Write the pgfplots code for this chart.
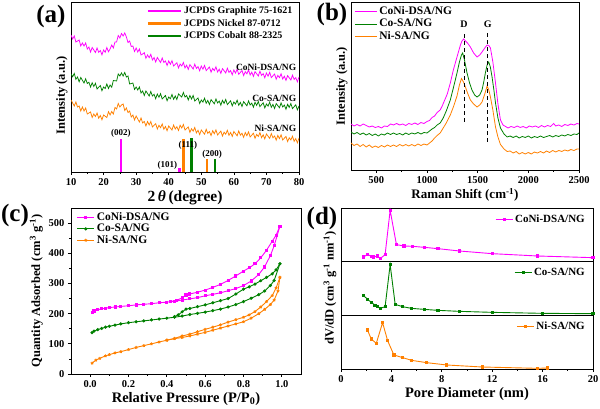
\documentclass[border=0pt]{standalone}
\usepackage{fontspec}
\setmainfont{Liberation Serif}
\usepackage{pgfplots}
\pgfplotsset{compat=1.18}
\definecolor{mag}{RGB}{255,0,255}
\definecolor{grn}{RGB}{0,128,0}
\definecolor{org}{RGB}{255,128,0}
\pgfplotsset{
  every axis/.append style={
    scale only axis,
    axis line style={line width=0.8pt},
    every tick/.style={black, line width=0.7pt},
    major tick length=3pt, minor tick length=1.8pt,
    tick align=outside, xtick pos=bottom, ytick pos=left,
    ticklabel style={font=\bfseries\fontsize{10.5}{11}\selectfont},
    label style={font=\bfseries\fontsize{12.5}{13}\selectfont},
    /pgf/number format/assume math mode=true,
    /pgf/number format/set thousands separator={},
    legend cell align=left,
  },
}
\begin{document}
\begin{tikzpicture}
\useasboundingbox (0pt,0pt) rectangle (600pt,409pt);
% ---------------- (a) ----------------
\begin{axis}[at={(71pt,237pt)}, anchor=south west, width=228pt, height=170pt,
  xmin=10, xmax=80, ymin=0, ymax=170,
  xtick={10,20,...,80}, minor x tick num=1, ytick=\empty,
  xlabel={2\,\textit{θ}\,(degree)}, ylabel={Intensity (a.u.)},
  xlabel style={yshift=2pt, font=\bfseries\fontsize{15.5}{16}\selectfont},
  ylabel style={at={(ticklabel cs:0.45)}, yshift=-3pt},
  legend image code/.code={\draw[#1] (0pt,0pt) -- (33pt,0pt);},
  legend style={at={(rel axis cs:0.985,0.99)}, anchor=north east, draw=none, fill=none,
    font=\bfseries\fontsize{10}{10.5}\selectfont, row sep=0pt, inner sep=1pt},
]
\addplot[mag, line width=0.75pt, forget plot] coordinates {
(10,137)(10.5,133)(11,136)(11.5,130)(12,131)(12.5,132)(13,126)(13.5,129)(14,126)(14.5,129)
(15,123)(15.5,125)(16,120)(16.5,124.5)(17,122)(17.5,119.5)(18,124)(18.5,119.7)(19,121.5)(19.5,117.2)
(20,122)(20.5,119.7)(21,124.5)(21.5,120.2)(22,123)(22.5,127)(23,124)(23.5,130)(24,130)(24.5,136.5)
(25,134)(25.5,138.5)(26,136)(26.5,139)(27,135)(27.5,129.5)(28,131)(28.5,125.5)(29,126)(29.5,120.5)
(30,124)(30.5,120)(31,123)(31.5,117)(32,118)(32.5,119.3)(33,113.7)(33.5,117)(34,114.3)(34.5,117.7)
(35,112)(35.5,114.5)(36,110)(36.5,114.5)(37,112)(37.5,109.5)(38,114)(38.5,109.5)(39,111)(39.5,106.5)
(40,111)(40.5,107.7)(41,111.3)(41.5,106)(42,107.7)(42.5,109.3)(43,104)(43.5,108)(44,106)(44.5,109.5)
(45,104)(45.5,106.8)(46,102.6)(46.5,107.4)(47,105.2)(47.5,103)(48,107.8)(48.5,103.6)(49,105.4)(49.5,101.2)
(50,106)(50.5,102.8)(51,106.6)(51.5,101.4)(52,103.2)(52.5,105)(53,99.8)(53.5,103.6)(54,101.4)(54.5,105.2)
(55,100)(55.5,102.8)(56,98.6)(56.5,103.4)(57,101.2)(57.5,99)(58,103.8)(58.5,99.6)(59,101.4)(59.5,97.2)
(60,102)(60.5,98.9)(61,102.8)(61.5,97.7)(62,99.6)(62.5,101.5)(63,96.4)(63.5,100.3)(64,98.2)(64.5,102.1)
(65,97)(65.5,99.8)(66,95.6)(66.5,100.4)(67,98.2)(67.5,96)(68,100.8)(68.5,96.6)(69,98.4)(69.5,94.2)
(70,99)(70.5,95.8)(71,99.6)(71.5,94.4)(72,96.2)(72.5,98)(73,92.8)(73.5,96.6)(74,94.4)(74.5,98.2)
(75,93)(75.5,95.8)(76,91.6)(76.5,96.4)(77,94.2)(77.5,92)(78,96.8)(78.5,92.6)(79,94.4)(79.5,90.2)(80,95)};
\addplot[grn, line width=0.75pt, forget plot] coordinates {
(10,98)(10.5,95.25)(11,98.5)(11.5,92.75)(12,95)(12.5,90.25)(13,94.5)(13.5,91.75)(14,89)(14.5,93.25)
(15,88.5)(15.5,89.75)(16,85)(16.5,89.25)(17,85.5)(17.5,88.75)(18,83)(18.5,84.75)(19,86.5)(19.5,81.25)
(20,85)(20.5,83.5)(21,88)(21.5,83.5)(22,87)(22.5,84.75)(23,91.5)(23.5,91.25)(24,91)(24.5,98)
(25,96)(25.5,99)(26,96)(26.5,99.5)(27,95)(27.5,96)(28,88)(28.5,88.5)(29,89)(29.5,82.5)
(30,85)(30.5,82)(31,85)(31.5,79)(32,81)(32.5,76.5)(33,81)(33.5,78.5)(34,76)(34.5,80.5)
(35,76)(35.5,77.7)(36,73.3)(36.5,78)(37,74.7)(37.5,78.3)(38,73)(38.5,74.75)(39,76.5)(39.5,71.25)
(40,75)(40.5,73.25)(41,77.5)(41.5,72.75)(42,76)(42.5,72.5)(43,78)(43.5,76.5)(44,75)(44.5,79.5)
(45,75)(45.5,76.5)(46,72)(46.5,76.5)(47,73)(47.5,76.5)(48,71)(48.5,72.5)(49,74)(49.5,68.5)
(50,72)(50.5,69.9)(51,73.8)(51.5,68.7)(52,71.6)(52.5,67.5)(53,72.4)(53.5,70.3)(54,68.2)(54.5,73.1)
(55,69)(55.5,70.9)(56,66.8)(56.5,71.7)(57,68.6)(57.5,72.5)(58,67.4)(58.5,69.3)(59,71.2)(59.5,66.1)
(60,70)(60.5,67.9)(61,71.8)(61.5,66.7)(62,69.6)(62.5,65.5)(63,70.4)(63.5,68.3)(64,66.2)(64.5,71.1)
(65,67)(65.5,68.9)(66,64.8)(66.5,69.7)(67,66.6)(67.5,70.5)(68,65.4)(68.5,67.3)(69,69.2)(69.5,64.1)
(70,68)(70.5,65.9)(71,69.8)(71.5,64.7)(72,67.6)(72.5,63.5)(73,68.4)(73.5,66.3)(74,64.2)(74.5,69.1)
(75,65)(75.5,66.9)(76,62.8)(76.5,67.7)(77,64.6)(77.5,68.5)(78,63.4)(78.5,65.3)(79,67.2)(79.5,62.1)(80,66)};
\addplot[org, line width=0.75pt, forget plot] coordinates {
(10,72)(10.5,69)(11,66)(11.5,70)(12,65)(12.5,66)(13,61)(13.5,65)(14,61)(14.5,64)
(15,58)(15.5,59)(16,60)(16.5,54.5)(17,58)(17.5,55.5)(18,59)(18.5,53.75)(19,56.5)(19.5,52.25)
(20,57)(20.5,55.75)(21,54.5)(21.5,60.25)(22,57)(22.5,60.5)(23,58)(23.5,64.5)(24,63)(24.5,68.5)
(25,65)(25.5,67)(26,68)(26.5,61.5)(27,64)(27.5,59.5)(28,61)(28.5,55)(29,57)(29.5,52)
(30,56)(30.5,53)(31,50)(31.5,54)(32,49)(32.5,50.5)(33,46)(33.5,50.5)(34,47)(34.5,50.5)
(35,45)(35.5,46.7)(36,48.3)(36.5,43)(37,46.7)(37.5,44.3)(38,48)(38.5,42.75)(39,45.5)(39.5,41.25)
(40,46)(40.5,44)(41,42)(41.5,47)(42,43)(42.5,45.25)(43,41.5)(43.5,46.75)(44,44)(44.5,47.5)
(45,42)(45.5,43.5)(46,45)(46.5,39.6)(47,43.25)(47.5,40.9)(48,44.5)(48.5,39.1)(49,41.75)(49.5,37.4)
(50,42)(50.5,39.9)(51,37.8)(51.5,42.7)(52,38.6)(52.5,40.5)(53,36.4)(53.5,41.3)(54,38.2)(54.5,42.1)
(55,37)(55.5,39)(56,40.9)(56.5,35.9)(57,39.8)(57.5,37.8)(58,41.7)(58.5,36.7)(59,39.6)(59.5,35.6)
(60,40.5)(60.5,38.35)(61,36.2)(61.5,41.05)(62,36.9)(62.5,38.75)(63,34.6)(63.5,39.45)(64,36.3)(64.5,40.15)
(65,35)(65.5,36.9)(66,38.8)(66.5,33.7)(67,37.6)(67.5,35.5)(68,39.4)(68.5,34.3)(69,37.2)(69.5,33.1)
(70,38)(70.5,35.8)(71,33.6)(71.5,38.4)(72,34.2)(72.5,36)(73,31.8)(73.5,36.6)(74,33.4)(74.5,37.2)
(75,32)(75.5,33.8)(76,35.6)(76.5,30.4)(77,34.2)(77.5,32)(78,35.8)(78.5,30.6)(79,33.4)(79.5,29.2)(80,34)};
\addplot[ycomb, mag, line width=2.3pt, forget plot] coordinates {(25.3,33)(43.3,4)};
\addplot[ycomb, org, line width=2.3pt, forget plot] coordinates {(44.5,33)(51.8,13)};
\addplot[ycomb, grn, line width=2.3pt, forget plot] coordinates {(47,34)(54.3,13)};
\addlegendimage{mag, line width=2.3pt}\addlegendentry{JCPDS Graphite 75-1621}
\addlegendimage{org, line width=2.3pt}\addlegendentry{JCPDS Nickel 87-0712}
\addlegendimage{grn, line width=2.3pt}\addlegendentry{JCPDS Cobalt 88-2325}
\begin{scope}[every node/.style={font=\bfseries\fontsize{9}{10}\selectfont, inner sep=0pt}]
\node at (axis cs:25.3,39) {(002)};
\node at (axis cs:39.6,6.5) {(101)};
\node at (axis cs:45.9,27) {(111)};
\node at (axis cs:53.3,17.5) {(200)};
\end{scope}
\begin{scope}[every node/.style={font=\bfseries\fontsize{9.5}{10}\selectfont, inner sep=0pt, anchor=east}]
\node at (axis cs:79.2,105) {CoNi-DSA/NG};
\node at (axis cs:79.2,74) {Co-SA/NG};
\node at (axis cs:79.2,44) {Ni-SA/NG};
\end{scope}
\end{axis}
% ---------------- (b) ----------------
\begin{axis}[at={(351pt,239pt)}, anchor=south west, width=228pt, height=168pt,
  xmin=250, xmax=2500, ymin=0, ymax=168,
  xtick={500,1000,...,2500}, minor x tick num=1, ytick=\empty,
  xlabel={Raman Shift (cm\textsuperscript{-1})}, ylabel={Intensity (a.u.)},
  xlabel style={yshift=2pt, font=\bfseries\fontsize{13}{14}\selectfont}, ylabel style={yshift=-3pt},
  legend image code/.code={\draw[#1] (0pt,0pt) -- (22pt,0pt);},
  legend style={at={(rel axis cs:0.01,0.99)}, anchor=north west, draw=none, fill=none,
    font=\bfseries\fontsize{11.5}{12}\selectfont, row sep=-1pt, inner sep=1pt},
]
\addplot[mag, line width=0.8pt] coordinates {
(250,46)(280,44)(310,45.5)(340,44)(370,46)(400,44.5)(430,43)(460,44)(490,42.5)(520,43.5)(550,42)(580,44)(610,43.5)(640,46)(670,45)(700,46.5)(730,45)(760,46)(790,44.5)(820,46.5)(850,45.5)(880,47)(910,45.5)(940,47.5)(970,46.5)(1000,48.5)(1025,49.5)(1050,52.5)(1075,54)(1100,57.5)(1130,60)(1150,64)(1175,70)(1200,76)(1230,87)(1260,100)(1296,113)(1330,125)(1345,129)(1362,131)(1380,129)(1400,127)(1428,123)(1460,117)(1494,113)(1520,115)(1543,118)(1570,122)(1593,125)(1610,124.5)(1626,122)(1650,108)(1676,87)(1700,66)(1725,50)(1750,45)(1775,43.5)(1800,42)(1830,43.5)(1860,42.5)(1890,44)(1920,42.5)(1950,43.5)(1980,42)(2010,44)(2040,43)(2070,44)(2100,42.5)(2130,44.5)(2160,43)(2190,44.5)(2220,43.5)(2250,46.5)(2270,44)(2300,45)(2330,43.5)(2360,45.5)(2390,44.5)(2420,46)(2450,45)(2480,46.5)(2500,46)};
\addlegendentry{CoNi-DSA/NG}
\addplot[grn, line width=0.8pt] coordinates {
(250,38)(280,36)(310,37.5)(340,35.5)(370,37)(400,35)(430,36.5)(460,34.5)(490,36)(520,34)(550,36)(580,35)(610,37)(640,35.5)(670,37)(700,35.5)(730,36.5)(760,35)(790,37)(820,35.5)(850,37)(880,36)(910,37.5)(940,36)(970,37.5)(1000,37)(1025,39)(1050,41)(1075,42.5)(1100,45)(1130,47)(1160,52)(1190,59)(1230,70)(1260,82)(1296,97)(1320,108)(1340,115)(1352,117)(1370,110)(1395,97)(1420,87)(1444,80)(1470,75)(1494,73)(1520,75)(1543,80)(1560,88)(1576,97)(1593,105)(1609,108)(1625,103)(1642,93)(1660,80)(1676,67)(1700,52)(1725,42)(1760,36)(1791,33)(1820,34)(1850,32.5)(1880,34)(1910,32)(1940,33.5)(1970,32.5)(2000,34)(2030,32)(2060,33.5)(2090,32.5)(2120,34)(2150,32.5)(2180,33.5)(2210,34.5)(2240,33)(2270,34.5)(2300,33.5)(2330,35)(2360,34)(2390,35.5)(2420,34.5)(2450,36)(2480,35.5)(2500,37)};
\addlegendentry{Co-SA/NG}
\addplot[org, line width=0.8pt] coordinates {
(250,27)(280,24.5)(310,26)(340,23.5)(370,25.5)(400,23)(430,25)(460,22.5)(490,24)(520,22.5)(550,24.5)(580,23)(610,25)(640,23.5)(670,25)(700,23.5)(730,25.5)(760,24)(790,25.5)(820,24)(850,25.5)(880,24)(910,26)(940,24.5)(970,26)(1000,25)(1025,27)(1050,29)(1075,32)(1100,34.5)(1130,37)(1160,42)(1190,47)(1230,55)(1260,63)(1296,74)(1320,85)(1340,91.5)(1360,88)(1379,83)(1400,77)(1428,70)(1460,66)(1494,63)(1520,65)(1543,68)(1570,76)(1593,84)(1610,80)(1626,73)(1650,60)(1676,43)(1700,33)(1725,25.5)(1760,21)(1791,18.5)(1820,19)(1850,17)(1880,18.5)(1910,16)(1940,17.5)(1970,16)(2000,17.5)(2030,16)(2060,18)(2090,17)(2120,18.5)(2150,17)(2180,19)(2210,17.5)(2240,19.5)(2270,18)(2300,19.5)(2330,18.5)(2360,20)(2390,19)(2420,20.5)(2450,19.5)(2480,21)(2500,21)};
\addlegendentry{Ni-SA/NG}
\addplot[black, line width=0.9pt, dash pattern=on 4pt off 3pt, forget plot] coordinates {(1365,48)(1365,138)};
\addplot[black, line width=0.9pt, dash pattern=on 4pt off 3pt, forget plot] coordinates {(1600,28)(1600,138)};
\node[font=\bfseries\fontsize{10}{11}\selectfont] at (axis cs:1365,146) {D};
\node[font=\bfseries\fontsize{10}{11}\selectfont] at (axis cs:1600,146) {G};
\end{axis}
% ---------------- (c) ----------------
\begin{axis}[at={(71pt,35pt)}, anchor=south west, width=230pt, height=166pt,
  xmin=-0.1, xmax=1.1, ymin=0, ymax=550,
  xtick={0,0.2,...,1.0}, minor x tick num=1, ytick={0,100,...,500}, minor y tick num=1,
  xticklabel style={/pgf/number format/.cd, fixed, fixed zerofill, precision=1},
  xlabel={Relative Pressure (P/P\textsubscript{0})},
  ylabel={Quantity Adsorbed (cm\textsuperscript{3} g\textsuperscript{-1})},
  xlabel style={yshift=2pt, font=\bfseries\fontsize{14.5}{15}\selectfont}, ylabel style={yshift=-1pt},
  legend style={at={(rel axis cs:0.02,0.99)}, anchor=north west, draw=none, fill=none,
    font=\bfseries\fontsize{11.5}{12}\selectfont, row sep=-2pt, inner sep=1pt},
]
\addplot[mag, line width=0.9pt, mark=square*, mark size=1.1pt] coordinates {
(0.01,205)(0.02,209)(0.04,213)(0.06,216)(0.08,218)(0.1,220)(0.13,222)(0.16,224)(0.2,226)(0.24,229)(0.28,231)(0.32,233)(0.36,236)(0.4,238)(0.44,241)(0.48,245)(0.52,249)(0.56,253)(0.6,259)(0.64,264)(0.68,269)(0.72,276)(0.76,283)(0.8,293)(0.84,308)(0.88,330)(0.91,355)(0.94,392)(0.96,425)(0.99,490)};
\addlegendentry{CoNi-DSA/NG}
\addplot[mag, line width=0.9pt, mark=square*, mark size=1.1pt, forget plot] coordinates {
(0.99,490)(0.97,460)(0.95,440)(0.92,410)(0.89,385)(0.86,365)(0.83,352)(0.8,341)(0.76,325)(0.72,310)(0.68,297)(0.64,287)(0.6,278)(0.56,271)(0.52,265)(0.5,262)(0.48,252)(0.45,244)(0.42,240)};
\addplot[grn, line width=0.9pt, mark=*, mark size=1.1pt] coordinates {
(0.01,137)(0.02,142)(0.04,147)(0.06,151)(0.08,155)(0.1,158)(0.13,162)(0.16,166)(0.2,170)(0.24,173)(0.28,176)(0.32,179)(0.36,182)(0.4,185)(0.44,188)(0.48,192)(0.52,197)(0.56,201)(0.6,205)(0.64,210)(0.68,215)(0.72,222)(0.76,230)(0.8,240)(0.84,251)(0.88,263)(0.91,275)(0.94,293)(0.96,310)(0.99,365)};
\addlegendentry{Co-SA/NG}
\addplot[grn, line width=0.9pt, mark=*, mark size=1.1pt, forget plot] coordinates {
(0.99,365)(0.97,345)(0.95,332)(0.92,320)(0.89,309)(0.86,298)(0.83,289)(0.8,281)(0.76,265)(0.72,250)(0.68,243)(0.64,236)(0.6,229)(0.56,223)(0.52,217)(0.5,215)(0.48,206)(0.46,196)(0.44,190)};
\addplot[org, line width=0.9pt, mark=star, mark size=1.5pt] coordinates {
(0.01,36)(0.03,46)(0.05,52)(0.08,60)(0.1,64)(0.13,70)(0.16,74)(0.2,81)(0.24,88)(0.28,94)(0.32,100)(0.36,106)(0.4,112)(0.44,117)(0.48,121)(0.52,126)(0.56,132)(0.6,138)(0.64,145)(0.68,152)(0.72,159)(0.76,166)(0.8,173)(0.84,185)(0.88,200)(0.91,214)(0.94,230)(0.96,245)(0.98,275)(0.99,320)};
\addlegendentry{Ni-SA/NG}
\addplot[org, line width=0.9pt, mark=star, mark size=1.5pt, forget plot] coordinates {
(0.99,320)(0.97,285)(0.95,260)(0.92,240)(0.89,222)(0.86,207)(0.83,196)(0.8,188)(0.76,180)(0.72,172)(0.68,163)(0.64,155)(0.6,148)(0.56,140)(0.52,132)(0.48,126)(0.44,118)(0.4,112)};
\end{axis}
% ---------------- (d) ----------------
\pgfplotsset{dpanel/.style={anchor=south west, width=252pt, xmin=0, xmax=20, ytick=\empty,
  legend style={at={(rel axis cs:0.98,0.93)}, anchor=north east, draw=none, fill=none,
    font=\bfseries\fontsize{11}{12}\selectfont, inner sep=1pt}}}
\begin{axis}[dpanel, at={(341pt,148pt)}, height=53pt, ymin=0, ymax=159, xtick=\empty]
\addplot[mag, line width=0.9pt, mark=square*, mark size=1.1pt] coordinates {
(1.8,12)(2.1,20)(2.4,14)(2.6,12)(2.9,15)(3.1,7)(3.5,19)(3.9,152)(4.4,49)(5.0,45)(5.7,44)(6.6,41)(7.7,37)(9.4,30)(12,22)(15.6,15)(20,10)};
\addlegendentry{CoNi-DSA/NG}
\end{axis}
\begin{axis}[dpanel, at={(341pt,94pt)}, height=54pt, ymin=0, ymax=163, xtick=\empty,
  ylabel={dV/dD (cm\textsuperscript{3} g\textsuperscript{-1} nm\textsuperscript{-1})}, ylabel style={yshift=-2pt}]
\addplot[grn, line width=0.9pt, mark=square*, mark size=1.1pt] coordinates {
(1.8,58)(2.1,48)(2.4,38)(2.7,30)(2.9,25)(3.1,20)(3.5,25)(3.9,152)(4.3,32)(4.9,25)(5.6,20)(6.6,17)(7.7,14)(9.4,11)(12,8)(16,5)(20,4)};
\addlegendentry{Co-SA/NG}
\end{axis}
\begin{axis}[dpanel, at={(341pt,40pt)}, height=54pt, ymin=0, ymax=162,
  xtick={0,4,...,20}, minor x tick num=1, xlabel={Pore Diameter (nm)},
  xlabel style={yshift=2pt, font=\bfseries\fontsize{14.5}{15}\selectfont}]
\addplot[org, line width=0.9pt, mark=square*, mark size=1.1pt] coordinates {
(2.1,117)(2.4,90)(2.8,77)(3.3,139)(3.7,85)(4.2,42)(4.9,34)(5.6,26)(6.8,19)(8.4,12)(11.2,6)(15.6,2)(16.4,3)};
\addlegendentry{Ni-SA/NG}
\end{axis}
% panel labels
\begin{scope}[every node/.style={font=\bfseries\fontsize{25}{27}\selectfont, inner sep=0pt}]
\node at (51pt,393pt) {(a)};
\node at (332pt,395pt) {(b)};
\node at (15pt,194pt) {(c)};
\node at (322pt,191pt) {(d)};
\end{scope}
\end{tikzpicture}
\end{document}
